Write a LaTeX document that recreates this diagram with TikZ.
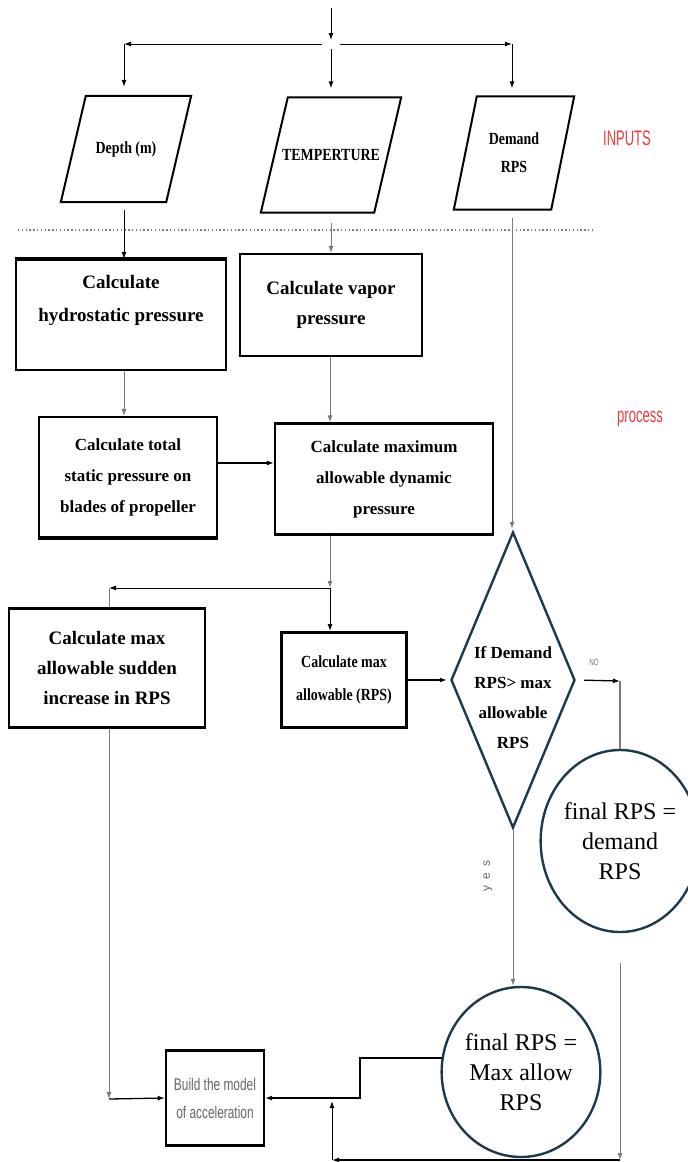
\documentclass[tikz,border=0pt]{standalone}
\usepackage{fontspec}
\setmainfont{Liberation Serif}
\newfontfamily\narrowserif[FakeStretch=0.82]{Liberation Serif}
\newfontfamily\narrowsans[FakeStretch=0.7]{Liberation Sans}
\newfontfamily\tallsans[FakeStretch=0.62]{Liberation Sans}
\newfontfamily\spacedsans[LetterSpace=50]{Liberation Sans}
\usetikzlibrary{shapes.geometric, positioning, arrows.meta}

\definecolor{deepteal}{HTML}{1C3A4A}
\definecolor{labelred}{HTML}{F03A3A}
\definecolor{wiregray}{HTML}{7A7A7A}

% frame of an input node, leaning right
\newcommand{\slantframe}[2]{%
  \draw[line width=2pt] ([xshift=#2]#1.north west) -- ([xshift=#2]#1.north east)
    -- ([xshift=-#2]#1.south east) -- ([xshift=-#2]#1.south west) -- cycle;}

\tikzset{
  arr/.style={-{Latex[length=7pt,width=5pt]}, line width=1pt},
  procbox/.style={draw, line width=2.2pt, align=center, inner sep=0pt},
  inbox/.style={inner sep=0pt, align=center,
    font=\narrowserif\bfseries\fontsize{17}{28}\selectfont},
  endstate/.style={draw=deepteal, line width=2.4pt, ellipse, align=center,
    inner sep=0pt, font=\fontsize{24}{30}\selectfont},
  sidelabel/.style={text=labelred, font=\tallsans\fontsize{21}{21}\selectfont},
}

\begin{document}
\begin{tikzpicture}[x=1pt, y=-1pt]
  \useasboundingbox (0,0) rectangle (688,1162);

  % Inputs
  \node[inbox, minimum width=105, minimum height=106] (depth) at (126,149) {Depth (m)};
  \node[inbox, minimum width=113, minimum height=115] (temp) at (331,155) {TEMPERTURE};
  \node[inbox, minimum width=97, minimum height=113] (dem) at (514,153) {Demand\\RPS};
  \slantframe{depth}{12.5}
  \slantframe{temp}{13.5}
  \slantframe{dem}{11.5}
  \node[sidelabel] (inputs) at (627,138) {INPUTS};

  % Split of the incoming line
  \coordinate (top) at (331,8);
  \coordinate (split) at (331,44);
  \coordinate (jl) at (124,44);
  \coordinate (jr) at (512,44);
  \draw[arr, shorten >=4pt] (top) -- (split);
  \draw[arr, shorten <=9pt] (split) -- (jl);
  \draw[arr, shorten <=9pt] (split) -- (jr);
  \draw[arr, shorten >=9pt] (jl) -- (jl |- depth.north);
  \draw[arr, shorten >=9pt, shorten <=5pt] (split) -- (temp.north);
  \draw[arr, shorten >=8pt] (jr) -- (jr |- dem.north);

  % Boundary between inputs and process
  \draw[wiregray, line width=1.6pt, dash pattern=on 1.4pt off 2.4pt] (18,230) -- (594,230);

  % Process
  \node[procbox, minimum width=210, minimum height=110, font=\bfseries\fontsize{19}{33}\selectfont]
    (hydro) at (121,315) {Calculate\\hydrostatic pressure\\~};
  \node[procbox, minimum width=182, minimum height=102, font=\bfseries\fontsize{19}{30}\selectfont]
    (vapor) at (331,305) {Calculate vapor\\pressure};
  \node[procbox, minimum width=178, minimum height=120, font=\bfseries\fontsize{17}{31}\selectfont]
    (total) at (128,477) {Calculate total\\static pressure on\\blades of propeller};
  \node[procbox, minimum width=218, minimum height=111, font=\bfseries\fontsize{17}{31}\selectfont]
    (maxdyn) at (384,479) {Calculate maximum\\allowable dynamic\\pressure};
  \node[procbox, minimum width=196, minimum height=119, font=\bfseries\fontsize{19}{30}\selectfont]
    (sudden) at (107,668) {Calculate max\\allowable sudden\\increase in RPS};
  \node[procbox, line width=3pt, minimum width=125, minimum height=95,
    font=\narrowserif\bfseries\fontsize{17}{33}\selectfont]
    (rpsbox) at (344,680) {Calculate max\\allowable (RPS)};
  \node[procbox, minimum width=98, minimum height=95, text=black!60,
    font=\narrowsans\fontsize{17}{28}\selectfont]
    (build) at (215,1098) {Build the model\\of acceleration};
  \node[sidelabel] (proc) at (640,419) {process};

  % Heavier edges
  \draw[line width=4pt] (hydro.north west) -- (hydro.north east);
  \draw[line width=4pt] (total.south west) -- (total.south east);

  % Decision
  \node[draw=deepteal, line width=2.4pt, diamond, minimum width=124, minimum height=296,
    inner sep=0pt] (dia) at (513,680) {};
  \node[align=center, font=\bfseries\fontsize{17}{30}\selectfont]
    (diatext) at (513,698) {If Demand\\RPS> max\\allowable\\RPS};
  \node[endstate, minimum width=140, minimum height=182] (fin1) at (620,841)
    {final RPS =\\demand\\RPS};
  \node[endstate, minimum width=144, minimum height=170] (fin2) at (521,1072)
    {final RPS =\\Max allow\\RPS};
  \node[text=black!55, font=\narrowsans\fontsize{9}{9}\selectfont] (nolbl) at (594,662) {NO};
  \node[text=black!60, rotate=90, font=\spacedsans\fontsize{12}{12}\selectfont] (yeslbl) at (488,876) {yes};

  % Connectors
  \coordinate (split2) at (330,588);
  \coordinate (jl2) at (109,588);
  \coordinate (jb) at (109,1099);
  \coordinate (jn) at (620,681);
  \coordinate (jm) at (360,1060);
  \coordinate (rt) at (620,963);
  \coordinate (rb) at (620,1160);
  \coordinate (lb) at (332,1160);

  \draw[arr, shorten <=8pt] (jl |- depth.south) -- (jl |- hydro.north);
  \draw[arr, wiregray, shorten <=10pt] (temp.south) -- (temp.south |- vapor.north);
  \draw[arr, wiregray, shorten <=8pt, shorten >=2pt] (jr |- dem.south) -- (jr |- dia.north);
  \draw[arr, wiregray] (hydro.south -| jl) -- (total.north -| jl);
  \draw[arr, wiregray] (vapor.south -| split2) -- (maxdyn.north -| split2);
  \draw[arr, line width=1.6pt] ([yshift=14pt]total.east) -- ([yshift=14pt]total.east -| maxdyn.west);
  \draw[arr, wiregray] (maxdyn.south -| split2) -- (split2);
  \draw[arr] (split2) -- (split2 |- rpsbox.north);
  \draw[arr] (split2) -- (jl2);
  \draw[wiregray] (jl2) -- (jl2 |- sudden.north);
  \draw[arr, line width=1.3pt, shorten >=3pt] (rpsbox.east) -- (dia.west);
  \draw[arr, line width=1.3pt, shorten <=8pt] (dia.east) -- (jn);
  \draw[wiregray, line width=1.3pt] (jn) -- (fin1.north);
  \draw[arr, wiregray] (dia.south) -- (dia.south |- fin2.north);
  \draw[arr, wiregray] (sudden.south -| jb) -- (jb);
  \draw[arr, line width=1.3pt] (jb) -- (build.west);
  \draw[arr, line width=1.3pt] (fin2.170) -- (fin2.170 -| jm) |- (build.east);
  \draw[arr, wiregray] (rt) -- (rb);
  \draw[arr, line width=1.3pt] (rb) -- (lb);
  \draw[arr, shorten >=3pt] (lb) -- (lb |- build.east);
\end{tikzpicture}
\end{document}
